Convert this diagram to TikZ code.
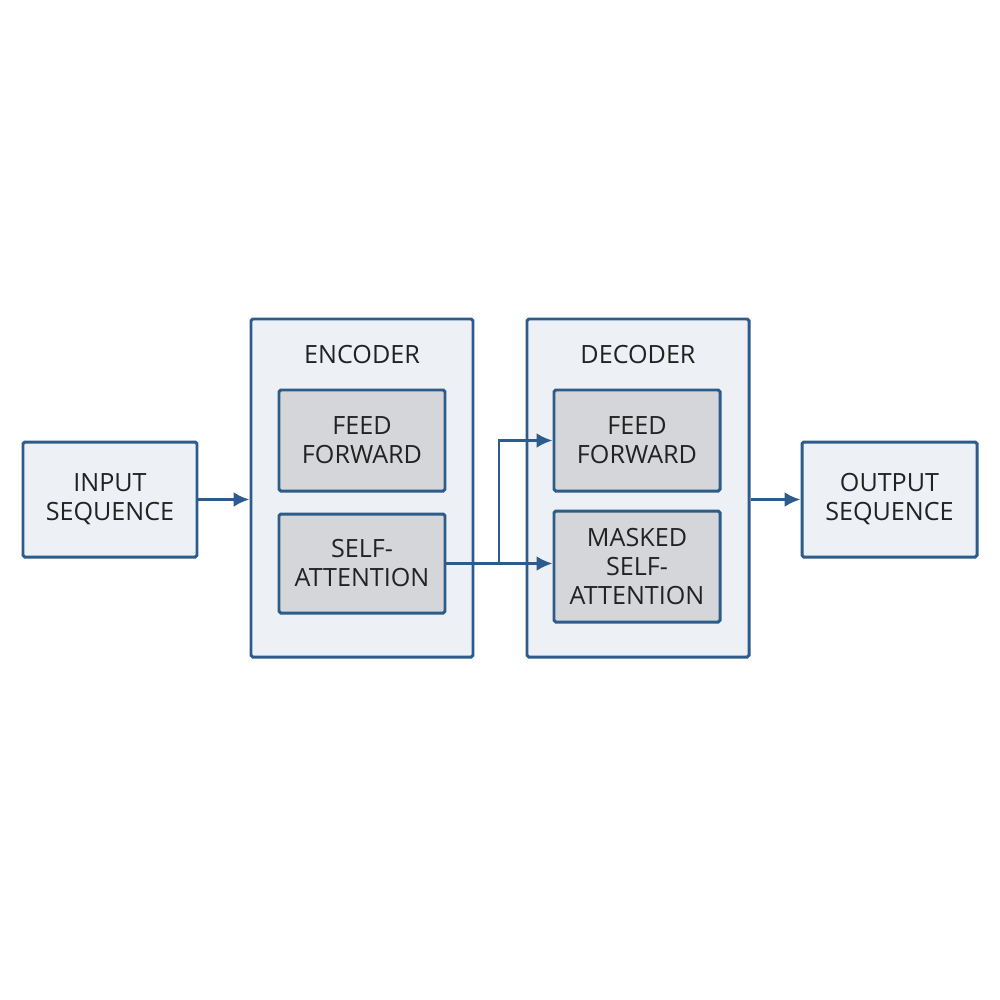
\documentclass[tikz,border=0pt]{standalone}
\usepackage{fontspec}
\setmainfont{Open Sans}
\usetikzlibrary{arrows.meta}
\definecolor{bord}{HTML}{2E5C8A}
\definecolor{outfill}{HTML}{EDF1F5}
\definecolor{infill}{HTML}{D4D6D9}
\definecolor{txt}{HTML}{222222}
\tikzset{
  outerbox/.style={draw=bord, line width=1.7pt, fill=outfill, rounded corners=1pt, align=center, text=txt, font=\fontsize{14.3}{16.5}\selectfont, inner sep=0pt},
  innerbox/.style={draw=bord, line width=1.7pt, fill=infill, rounded corners=1pt, align=center, text=txt, font=\fontsize{14.3}{16.5}\selectfont, inner sep=0pt, minimum width=3.32cm},
  lbl/.style={text=txt, font=\fontsize{14.3}{16.5}\selectfont},
  arr/.style={draw=bord, line width=1.7pt, -{Latex[length=3.2mm,width=3mm]}},
  conn/.style={draw=bord, line width=1.7pt}
}
\begin{document}
\begin{tikzpicture}
\fill[white] (0,0) rectangle (20,-20);
\useasboundingbox (0,0) rectangle (20,-20);
\node[outerbox, minimum width=3.48cm, minimum height=2.3cm] (inp) at (2.2,-9.99) {INPUT\\SEQUENCE};
\node[outerbox, minimum width=4.44cm, minimum height=6.76cm] (enc) at (7.24,-9.76) {};
\node[outerbox, minimum width=4.44cm, minimum height=6.76cm] (dec) at (12.76,-9.76) {};
\node[lbl] (enclbl) at (7.24,-7.1) {ENCODER};
\node[lbl] (declbl) at (12.76,-7.1) {DECODER};
\node[innerbox, minimum height=2.02cm] (eff) at (7.24,-8.81) {FEED\\FORWARD};
\node[innerbox, minimum height=1.98cm] (esa) at (7.24,-11.27) {SELF-\\ATTENTION};
\node[innerbox, minimum height=2.02cm] (dff) at (12.74,-8.81) {FEED\\FORWARD};
\node[innerbox, minimum height=2.22cm] (dmsa) at (12.74,-11.33) {MASKED\\SELF-\\ATTENTION};
\node[outerbox, minimum width=3.5cm, minimum height=2.3cm] (out) at (17.79,-9.99) {OUTPUT\\SEQUENCE};
\coordinate (br) at (9.98,-11.27);
\draw[arr] (inp.east) -- (enc.west |- inp.east);
\draw[arr] (esa.east) -- (dmsa.west |- esa.east);
\draw[arr] (br) |- (dff.west);
\draw[arr] (dec.east |- out.west) -- (out.west);
\end{tikzpicture}
\end{document}
